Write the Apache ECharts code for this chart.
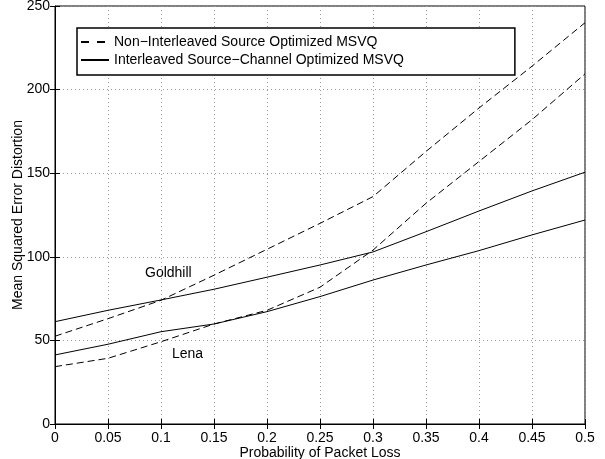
<!DOCTYPE html>
<html><head><meta charset="utf-8">
<script src="https://cdn.jsdelivr.net/npm/echarts@6/dist/echarts.min.js"></script>
<style>html,body{margin:0;padding:0;background:#fff}#c{width:605px;height:459px}</style>
</head><body><div id="c"></div>
<script>
const xValues = [0, 0.05, 0.1, 0.15, 0.2, 0.25, 0.3, 0.35, 0.4, 0.45, 0.5];
const goldhillNonInterleaved = [52.5, 63, 74, 89, 104.5, 120, 136, 163, 189, 214, 240];
const goldhillInterleaved = [61.2, 68, 74.2, 80.6, 87.8, 95.1, 102.9, 115, 127.4, 139.4, 150.6];
const lenaNonInterleaved = [34.3, 39.3, 49.2, 59.8, 68, 81.8, 104, 132, 157, 182, 209.4];
const lenaInterleaved = [41.3, 47.7, 55.2, 59.8, 67.2, 76.2, 86.1, 95.1, 103.7, 113.1, 122];
const legendNames = ['Non\u2212Interleaved Source Optimized MSVQ', 'Interleaved Source\u2212Channel Optimized MSVQ'];
const xTickLabels = ['0','0.05','0.1','0.15','0.2','0.25','0.3','0.35','0.4','0.45','0.5'];
const yTickLabels = ['0','50','100','150','200','250'];

const font = 'Liberation Sans, Arial, Helvetica, sans-serif';
const pairs = a => xValues.map((x, i) => [x, a[i]]);
const mk = (name, data, dashed) => ({
  name, type: 'line', data: pairs(data), symbol: 'none', silent: true,
  lineStyle: { color: '#000', width: 1, type: dashed ? [7, 4] : 'solid' },
  itemStyle: { color: '#000' }
});
const gridLine = { show: true, lineStyle: { color: '#999', type: [1, 3], width: 1 } };
const chart = echarts.init(document.getElementById('c'), null, { renderer: 'canvas' });
chart.setOption({
  animation: false,
  backgroundColor: '#fff',
  textStyle: { fontFamily: font },
  grid: { left: 55, right: 20, top: 6, bottom: 35, show: true, borderColor: '#000', borderWidth: 1,
    containLabel: false, outerBoundsMode: 'none' },
  legend: {
    data: [
      { name: legendNames[0], lineStyle: { type: [8, 8] } },
      { name: legendNames[1] }
    ],
    orient: 'vertical', left: 77, top: 28,
    padding: [7, 111, 8, 3], itemGap: 4, itemWidth: 28, itemHeight: 14,
    borderColor: '#000', borderWidth: 1.5, backgroundColor: '#fff',
    itemStyle: { opacity: 0 },
    textStyle: { fontFamily: font, fontSize: 14, color: '#000' },
    selectedMode: false
  },
  xAxis: [{
    type: 'value', min: 0, max: 0.5, interval: 0.05,
    name: 'Probability of Packet Loss', nameLocation: 'middle', nameGap: 22, nameMoveOverlap: false,
    nameTextStyle: { fontFamily: font, fontSize: 14, color: '#000' },
    axisLine: { lineStyle: { color: '#000', width: 1 } },
    axisTick: { inside: true, length: 5, lineStyle: { color: '#000' } },
    axisLabel: { fontFamily: font, fontSize: 14, color: '#000', margin: 7,
      formatter: v => xTickLabels[Math.round(v / 0.05)] },
    splitLine: gridLine
  }, {
    type: 'value', min: 0, max: 0.5, interval: 0.05, position: 'top',
    axisLine: { show: false }, axisTick: { inside: true, length: 5, lineStyle: { color: '#000' } },
    axisLabel: { show: false }, splitLine: { show: false }
  }],
  yAxis: [{
    type: 'value', min: 0, max: 250, interval: 50,
    name: 'Mean Squared Error Distortion', nameLocation: 'middle', nameGap: 30, nameMoveOverlap: false,
    nameTextStyle: { fontFamily: font, fontSize: 14, color: '#000' },
    axisLine: { show: true, lineStyle: { color: '#000', width: 1 } },
    axisTick: { show: true, inside: true, length: 5, lineStyle: { color: '#000' } },
    axisLabel: { fontFamily: font, fontSize: 14, color: '#000', margin: 5,
      formatter: v => yTickLabels[Math.round(v / 50)] },
    splitLine: gridLine
  }, {
    type: 'value', min: 0, max: 250, interval: 50, position: 'right',
    axisLine: { show: false }, axisTick: { show: true, inside: true, length: 5, lineStyle: { color: '#000' } },
    axisLabel: { show: false }, splitLine: { show: false }
  }],
  series: [
    mk(legendNames[0], goldhillNonInterleaved, true),
    mk(legendNames[1], goldhillInterleaved, false),
    mk(legendNames[0], lenaNonInterleaved, true),
    mk(legendNames[1], lenaInterleaved, false)
  ],
  graphic: [
    { type: 'text', left: 145, top: 266, style: { text: 'Goldhill', font: '14px ' + font, fill: '#000' } },
    { type: 'text', left: 172, top: 347, style: { text: 'Lena', font: '14px ' + font, fill: '#000' } }
  ]
});
</script></body></html>
